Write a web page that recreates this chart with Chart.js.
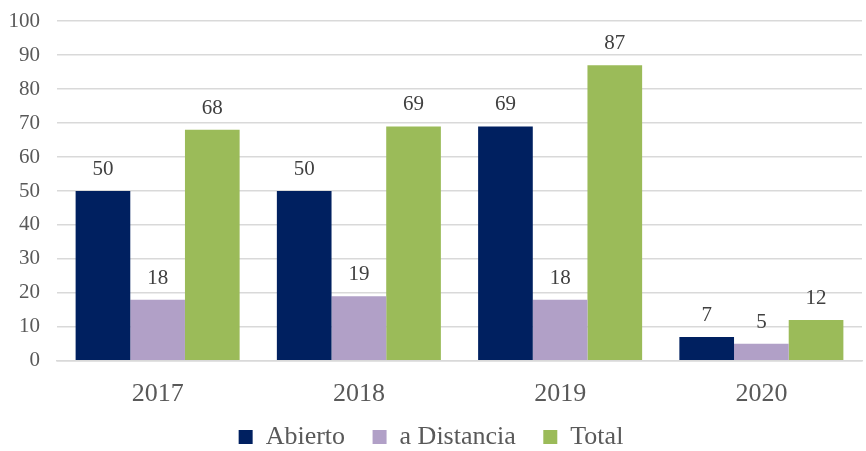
<!DOCTYPE html>
<html>
<head>
<meta charset="utf-8">
<script src="https://cdn.jsdelivr.net/npm/chart.js@4"></script>
<style>
  html, body { margin: 0; padding: 0; background: #fff; }
  #wrap { width: 866px; height: 451px; }
</style>
</head>
<body>
<div id="wrap"><canvas id="myChart"></canvas></div>
<script>
const years = ["2017", "2018", "2019", "2020"];
const abierto = [50, 50, 69, 7];
const distancia = [18, 19, 18, 5];
const total = [68, 69, 87, 12];
const seriesNames = ["Abierto", "a Distancia", "Total"];

// draws the value above each bar
const valueLabels = {
  id: "valueLabels",
  afterDatasetsDraw(chart) {
    const ctx = chart.ctx;
    ctx.save();
    ctx.font = "21px 'Liberation Serif'";
    ctx.fillStyle = "#404040";
    ctx.textAlign = "center";
    ctx.textBaseline = "bottom";
    chart.data.datasets.forEach((ds, i) => {
      chart.getDatasetMeta(i).data.forEach((bar, j) => {
        ctx.fillText(ds.data[j], bar.x, bar.y - 11);
      });
    });
    ctx.restore();
  },
};

// legend takes less height; widen its clip box again when drawing
const lowerLegend = {
  id: "lowerLegend",
  beforeInit(chart) {
    const lg = chart.legend;
    const fit = lg.fit;
    lg.fit = function () {
      fit.call(this);
      this.height = this.height - 13;
    };
    const draw = lg.draw;
    lg.draw = function (area) {
      const b = this.bottom;
      this.bottom = b + 30;
      this.ctx.save();
      this.ctx.translate(0, -4);
      draw.call(this, area);
      this.ctx.restore();
      this.bottom = b;
    };
  },
};

const data = {
  labels: years,
  datasets: [
    { label: seriesNames[0], data: abierto, backgroundColor: "#002060" },
    { label: seriesNames[1], data: distancia, backgroundColor: "#B1A0C7" },
    { label: seriesNames[2], data: total, backgroundColor: "#9BBB59" },
  ],
};

const config = {
  type: "bar",
  data,
  plugins: [valueLabels, lowerLegend],
  options: {
    responsive: true,
    maintainAspectRatio: false,
    animation: false,
    datasets: { bar: { categoryPercentage: 0.815, barPercentage: 1.0 } },
    layout: { padding: { left: 0, right: 4, top: 0, bottom: 0 } },
    plugins: {
      tooltip: { enabled: false },
      legend: {
        position: "bottom",
        labels: {
          font: { family: "'Liberation Serif'", size: 26 },
          color: "#595959",
          boxWidth: 14,
          boxHeight: 14,
          padding: 8,
          generateLabels(chart) {
            const items = Chart.defaults.plugins.legend.labels.generateLabels(chart);
            items.forEach((it, i) => {
              if (i < items.length - 1) it.text = it.text + "   ";
            });
            return items;
          },
        },
      },
    },
    scales: {
      x: {
        grid: { display: false },
        border: { color: "#d9d9d9", width: 1.5 },
        ticks: {
          font: { family: "'Liberation Serif'", size: 26 },
          color: "#595959",
          padding: 10,
        },
      },
      y: {
        min: 0,
        max: 100,
        afterFit(scale) {
          scale.width = 57;
        },
        ticks: {
          stepSize: 10,
          font: { family: "'Liberation Serif'", size: 21, lineHeight: 0.4 },
          color: "#595959",
          padding: 17,
        },
        grid: { color: "#d9d9d9", lineWidth: 1.5, drawTicks: false },
        border: { display: false },
      },
    },
  },
};

const myChart = new Chart(document.querySelector("#myChart"), config);
</script>
</body>
</html>
